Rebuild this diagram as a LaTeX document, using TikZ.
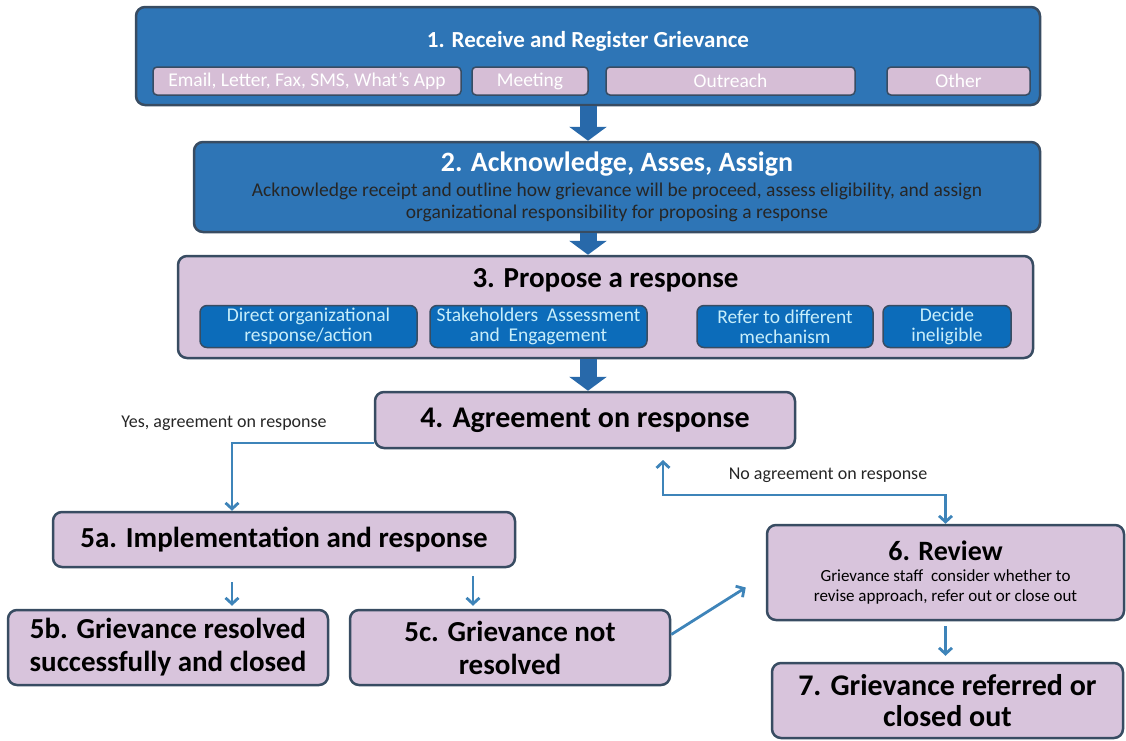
\documentclass[tikz,border=0pt]{standalone}
\usepackage{fontspec}
\setmainfont{Carlito}
\usetikzlibrary{arrows.meta, positioning}

\definecolor{boxblue}{RGB}{46,117,182}
\definecolor{arrowblue}{RGB}{40,105,170}
\definecolor{subblue}{RGB}{12,108,186}
\definecolor{boxpink}{RGB}{216,196,220}
\definecolor{subpink}{RGB}{214,190,214}
\definecolor{edgegray}{RGB}{56,76,98}
\definecolor{linkblue}{RGB}{62,132,185}
\definecolor{lightcyan}{RGB}{200,238,250}

\newcommand{\fs}[1]{\fontsize{#1}{1.2\dimexpr #1pt\relax}\selectfont}

\begin{document}
\begin{tikzpicture}[x=1pt, y=-1pt,
    blueBox/.style={draw=edgegray, fill=boxblue, line width=2.5pt, rounded corners=9pt, inner sep=0pt},
    pinkBox/.style={draw=edgegray, fill=boxpink, line width=2.5pt, rounded corners=9pt, inner sep=0pt, align=center},
    subPink/.style={draw=edgegray, fill=subpink, line width=1.5pt, rounded corners=4pt, minimum height=28pt, inner sep=0pt, text=white, font=\fs{19.5}},
    subBlue/.style={draw=edgegray, fill=subblue, line width=1.5pt, rounded corners=7pt, minimum height=42pt, inner sep=0pt, align=center, text=lightcyan, font=\fontsize{19.5}{20}\selectfont},
    bigArrow/.style={draw=arrowblue, line width=17pt, -{Triangle[length=14pt, width=37pt]}},
    link/.style={draw=linkblue, line width=2.8pt, -{Straight Barb[length=6pt, width=13pt]}},
    note/.style={font=\fs{18}, text=black!85}
  ]
  \useasboundingbox (0,0) rectangle (1126,740);
  \coordinate (spine) at (588,0);

  % stage 1
  \node[blueBox, minimum width=904pt, minimum height=98pt] (recv) at (588,56) {};
  \node[text=white, font=\bfseries\fs{23}] (recvT) at (588,41) {1. Receive and Register Grievance};
  \node[subPink, minimum width=308pt] (email) at (307,81) {Email, Letter, Fax, SMS, What’s App};
  \node[subPink, minimum width=116pt] (meet) at (530,81) {Meeting};
  \node[subPink, minimum width=249pt] (outr) at (730.5,81) {Outreach};
  \node[subPink, minimum width=143pt] (other) at (958.5,81) {Other};

  % stage 2
  \node[blueBox, minimum width=846pt, minimum height=90pt, align=center, text=black!85, font=\fontsize{19.5}{22}\selectfont] (ack) at (617,187)
    {{\color{white}\bfseries\fontsize{28}{30}\selectfont 2. Acknowledge, Asses, Assign}\\[3pt]
     Acknowledge receipt and outline how grievance will be proceed, assess eligibility, and assign\\
     organizational responsibility for proposing a response};

  % stage 3
  \node[pinkBox, minimum width=855pt, minimum height=102pt] (prop) at (605.5,307) {};
  \node[font=\bfseries\fs{29}] (propT) at (605.5,280) {3. Propose a response};
  \node[subBlue, minimum width=217pt] (direct) at (308.5,326.5) {Direct organizational\\response/action};
  \node[subBlue, minimum width=217pt] (stake) at (538.5,326.5) {Stakeholders~ Assessment\\and~ Engagement};
  \node[subBlue, minimum width=176pt] (refer) at (785,326.5) {Refer to different\\mechanism};
  \node[subBlue, minimum width=128pt] (inel) at (947,326.5) {Decide\\ineligible};

  % stage 4
  \node[pinkBox, minimum width=420pt, minimum height=56pt, font=\bfseries\fs{30}] (agree) at (585,420) {4. Agreement on response};

  \draw[bigArrow] (recv.south -| spine) -- (ack.north -| spine);
  \draw[bigArrow] (ack.south -| spine) -- (prop.north -| spine);
  \draw[bigArrow] (prop.south -| spine) -- (agree.north -| spine);

  % stage 5
  \node[pinkBox, minimum width=462pt, minimum height=55pt, font=\bfseries\fs{29}] (impl) at (284,539.5) {5a. Implementation and response};
  \node[pinkBox, minimum width=320pt, minimum height=75pt, font=\bfseries\fontsize{29}{33}\selectfont] (solved) at (168,647.5) {5b. Grievance resolved\\successfully and closed};
  \node[pinkBox, minimum width=320pt, minimum height=75pt, font=\bfseries\fontsize{29}{33}\selectfont] (notres) at (510,647.5) {5c. Grievance not\\resolved};

  % stages 6 and 7
  \node[pinkBox, minimum width=357pt, minimum height=95pt, font=\fontsize{17}{19.5}\selectfont] (rev) at (945.5,572.5)
    {{\bfseries\fontsize{28}{30}\selectfont 6. Review}\\[2pt]
     Grievance staff~ consider whether to\\
     revise approach, refer out or close out};
  \node[pinkBox, minimum width=351pt, minimum height=75pt, font=\bfseries\fontsize{30}{31}\selectfont] (final) at (947.5,700.5) {7. Grievance referred or\\closed out};

  % connectors
  \coordinate (yesTurn) at (232,443);
  \coordinate (cSplit) at (473,0);
  \coordinate (noTip) at (663,460);
  \coordinate (noTurn) at (663,495);
  \draw[link] (agree.west |- yesTurn) -- (yesTurn) -- (yesTurn |- impl.north);
  \draw[link, {Straight Barb[length=6pt, width=13pt]}-{Straight Barb[length=6pt, width=13pt]}] (noTip) -- (noTurn) -| (rev.north);
  \draw[link, shorten <=14pt, shorten >=3pt] (impl.south -| yesTurn) -- (solved.north -| yesTurn);
  \draw[link, shorten <=8pt, shorten >=3pt] (impl.south -| cSplit) -- (notres.north -| cSplit);
  \draw[link] ([yshift=13pt]notres.east) -- ([xshift=-20pt, yshift=-15pt]rev.west);
  \draw[link, shorten <=5pt, shorten >=6pt] (rev.south) -- (rev.south |- final.north);

  \node[note] (yesLbl) at (224,423) {Yes, agreement on response};
  \node[note] (noLbl) at (828,475) {No agreement on response};
\end{tikzpicture}
\end{document}
